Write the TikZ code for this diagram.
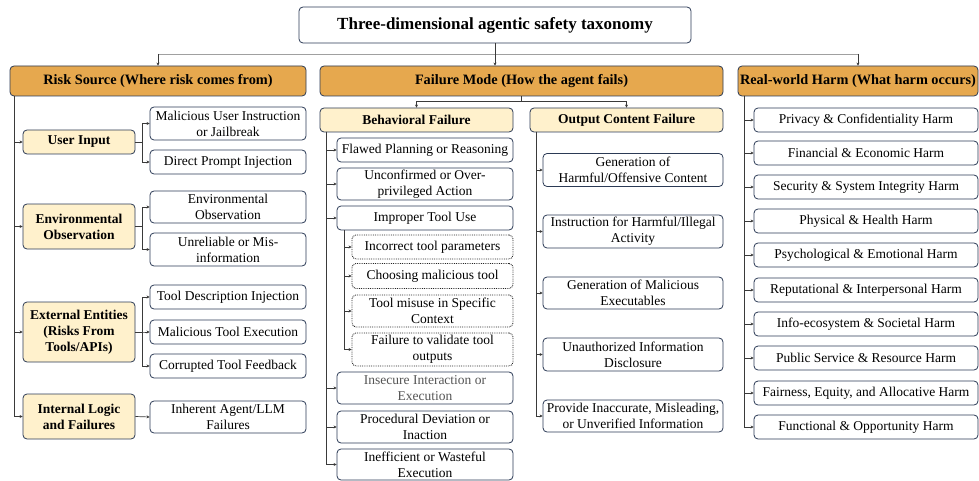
\documentclass[tikz,border=0pt]{standalone}
\usepackage{fontspec}
\setmainfont{Liberation Serif}
\usetikzlibrary{positioning,arrows.meta}
\definecolor{navy}{HTML}{2B3A55}
\definecolor{headorange}{HTML}{E6A84E}
\definecolor{catyellow}{HTML}{FFF1CC}
\definecolor{linegray}{HTML}{3A3A3A}
\definecolor{busgray}{HTML}{A0A0A0}
\definecolor{softtext}{HTML}{555555}
\tikzset{
	box/.style={draw=navy, line width=0.8pt, rounded corners=4pt, align=center, inner sep=1pt},
	rootbox/.style={box, fill=white, font=\fontsize{17}{20}\selectfont\bfseries},
	dimbox/.style={box, fill=headorange, font=\fontsize{14.3}{17}\selectfont\bfseries},
	catbox/.style={box, fill=catyellow, font=\fontsize{13.5}{16}\selectfont\bfseries},
	leaf/.style={box, fill=white, font=\fontsize{13.5}{16}\selectfont},
	subleaf/.style={leaf, draw=black!85, densely dotted, line width=0.9pt},
	edge/.style={color=linegray, line width=0.7pt},
	diredge/.style={->,>={Stealth[width=3pt,length=3pt]},color=linegray, line width=0.7pt},
	busedge/.style={color=busgray, line width=0.7pt}
}
\begin{document}
\begin{tikzpicture}[x=1pt, y=-1pt]
		\useasboundingbox (0,0) rectangle (979,481);
		\node [rootbox, minimum width=392pt, minimum height=36pt] (0) at (495, 25) {Three-dimensional agentic safety taxonomy};
		\node [dimbox, minimum width=296pt, minimum height=30pt] (1) at (158, 81) {Risk Source (Where risk comes from)};
		\node [dimbox, minimum width=403pt, minimum height=30pt] (2) at (521.5, 81) {Failure Mode (How the agent fails)};
		\node [dimbox, minimum width=240pt, minimum height=30pt] (3) at (858, 81) {Real-world Harm (What harm occurs)};
		\node [catbox, minimum width=193pt, minimum height=24pt] (4) at (416.5, 120) {Behavioral Failure};
		\node [catbox, minimum width=193pt, minimum height=24pt] (5) at (626.5, 120) {Output Content Failure};

		\node [catbox, minimum width=112pt, minimum height=24pt] (10) at (79, 142) {User Input};
		\node [catbox, minimum width=112pt, minimum height=45pt] (11) at (79, 226.5) {Environmental\\Observation};
		\node [catbox, minimum width=112pt, minimum height=60pt] (12) at (79, 332) {External Entities\\(Risks From\\Tools/APIs)};
		\node [catbox, minimum width=112pt, minimum height=45pt] (13) at (79, 416.5) {Internal Logic\\and Failures};
		\node [leaf, minimum width=156pt, minimum height=33pt] (14) at (228, 123.5) {Malicious User Instruction\\or Jailbreak};
		\node [leaf, minimum width=156pt, minimum height=24pt] (15) at (228, 162) {Direct Prompt Injection};
		\node [leaf, minimum width=156pt, minimum height=32pt] (16) at (228, 207) {Environmental\\Observation};
		\node [leaf, minimum width=156pt, minimum height=33pt] (17) at (228, 249.5) {Unreliable or Mis-\\information};
		\node [leaf, minimum width=156pt, minimum height=24pt] (18) at (228, 297) {Tool Description Injection};
		\node [leaf, minimum width=156pt, minimum height=24pt] (19) at (228, 332) {Malicious Tool Execution};
		\node [leaf, minimum width=156pt, minimum height=24pt] (20) at (228, 366) {Corrupted Tool Feedback};
		\node [leaf, minimum width=156pt, minimum height=32pt] (21) at (228, 417) {Inherent Agent/LLM\\Failures};

		\node [leaf, minimum width=176pt, minimum height=24pt] (22) at (425, 150) {Flawed Planning or Reasoning};
		\node [leaf, minimum width=176pt, minimum height=32pt] (23) at (425, 184) {Unconfirmed or Over-\\privileged Action};
		\node [leaf, minimum width=176pt, minimum height=24pt] (24) at (425, 218) {Improper Tool Use};
		\node [subleaf, minimum width=161pt, minimum height=24pt] (25) at (432.5, 247) {Incorrect tool parameters};
		\node [subleaf, minimum width=161pt, minimum height=25pt] (26) at (432.5, 276) {Choosing malicious tool};
		\node [subleaf, minimum width=161pt, minimum height=32pt] (27) at (432.5, 311) {Tool misuse in Specific\\Context};
		\node [subleaf, minimum width=161pt, minimum height=33pt] (28) at (432.5, 349.5) {Failure to validate tool\\outputs};
		\node [leaf, text=softtext, minimum width=176pt, minimum height=32pt] (29) at (425, 388) {Insecure Interaction or\\Execution};
		\node [leaf, minimum width=176pt, minimum height=32pt] (30) at (425, 427) {Procedural Deviation or\\Inaction};
		\node [leaf, minimum width=176pt, minimum height=31pt] (31) at (425, 464.5) {Inefficient or Wasteful\\Execution};

		\node [leaf, minimum width=180pt, minimum height=33pt] (32) at (633, 170) {Generation of\\Harmful/Offensive Content};
		\node [leaf, minimum width=180pt, minimum height=33pt] (33) at (633, 231.5) {Instruction for Harmful/Illegal\\Activity};
		\node [leaf, minimum width=180pt, minimum height=32pt] (34) at (633, 293) {Generation of Malicious\\Executables};
		\node [leaf, minimum width=180pt, minimum height=33pt] (35) at (633, 354.5) {Unauthorized Information\\Disclosure};
		\node [leaf, minimum width=180pt, minimum height=32pt] (36) at (633, 416) {Provide Inaccurate, Misleading,\\or Unverified Information};

		\node [leaf, minimum width=224pt, minimum height=24pt] (40) at (866, 120) {Privacy \& Confidentiality Harm};
		\node [leaf, minimum width=224pt, minimum height=24pt] (41) at (866, 153) {Financial \& Economic Harm};
		\node [leaf, minimum width=224pt, minimum height=24pt] (42) at (866, 187) {Security \& System Integrity Harm};
		\node [leaf, minimum width=224pt, minimum height=24pt] (43) at (866, 221) {Physical \& Health Harm};
		\node [leaf, minimum width=224pt, minimum height=24pt] (44) at (866, 255) {Psychological \& Emotional Harm};
		\node [leaf, minimum width=224pt, minimum height=24pt] (45) at (866, 290) {Reputational \& Interpersonal Harm};
		\node [leaf, minimum width=224pt, minimum height=24pt] (46) at (866, 324) {Info-ecosystem \& Societal Harm};
		\node [leaf, minimum width=224pt, minimum height=24pt] (47) at (866, 358) {Public Service \& Resource Harm};
		\node [leaf, minimum width=224pt, minimum height=24pt] (48) at (866, 393) {Fairness, Equity, and Allocative Harm};
		\node [leaf, minimum width=224pt, minimum height=24pt] (49) at (866, 427) {Functional \& Opportunity Harm};

		\coordinate (bus) at (495, 54);
		\coordinate (fork) at (521.5, 101);
		\coordinate (t1) at (14, 96);
		\coordinate (t4) at (326, 132);
		\coordinate (t24) at (344, 230);
		\coordinate (t5) at (536, 132);
		\coordinate (t3) at (744, 96);

		\draw [busedge] (bus -| 1.north) to (bus -| 3.north);
		\draw [diredge] (bus -| 1.north) to (1.north);
		\draw [diredge] (bus -| 3.north) to (3.north);
		\draw [diredge] (0.south) to (0.south |- 2.north);
		\draw [edge] (2.south) to (fork);
		\draw [diredge] (fork) -| (4.north);
		\draw [diredge] (fork) -| (5.north);

		\draw [diredge] (t1) |- (10.west);
		\draw [diredge] (t1) |- (11.west);
		\draw [diredge] (t1) |- (12.west);
		\draw [diredge] (t1) |- (13.west);
		\draw [diredge] (10.east) -- ++(7,0) |- (14.west);
		\draw [diredge] (10.east) -- ++(7,0) |- (15.west);
		\draw [diredge] (11.east) -- ++(7,0) |- (16.west);
		\draw [diredge] (11.east) -- ++(7,0) |- (17.west);
		\draw [diredge] (12.east) -- ++(7,0) |- (18.west);
		\draw [diredge] (12.east) -- ++(7,0) |- (19.west);
		\draw [diredge] (12.east) -- ++(7,0) |- (20.west);
		\draw [diredge] (13.east) to (21.west);

		\draw [diredge] (t4) |- (22.west);
		\draw [diredge] (t4) |- (23.west);
		\draw [diredge] (t4) |- (24.west);
		\draw [diredge] (t4) |- (29.west);
		\draw [diredge] (t4) |- (30.west);
		\draw [diredge] (t4) |- (31.west);
		\draw [diredge] (t24) |- (25.west);
		\draw [diredge] (t24) |- (26.west);
		\draw [diredge] (t24) |- (27.west);
		\draw [diredge] (t24) |- (28.west);

		\draw [diredge] (t5) |- (32.west);
		\draw [diredge] (t5) |- (33.west);
		\draw [diredge] (t5) |- (34.west);
		\draw [diredge] (t5) |- (35.west);
		\draw [diredge] (t5) |- (36.west);

		\draw [diredge] (t3) |- (40.west);
		\draw [diredge] (t3) |- (41.west);
		\draw [diredge] (t3) |- (42.west);
		\draw [diredge] (t3) |- (43.west);
		\draw [diredge] (t3) |- (44.west);
		\draw [diredge] (t3) |- (45.west);
		\draw [diredge] (t3) |- (46.west);
		\draw [diredge] (t3) |- (47.west);
		\draw [diredge] (t3) |- (48.west);
		\draw [diredge] (t3) |- (49.west);
	\end{tikzpicture}
\end{document}
